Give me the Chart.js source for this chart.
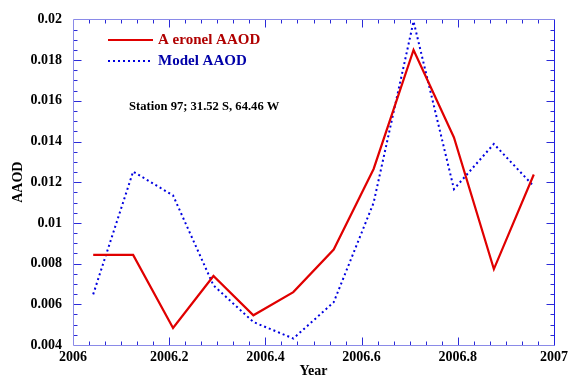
<!DOCTYPE html>
<html>
<head>
<meta charset="utf-8">
<script src="https://cdn.jsdelivr.net/npm/chart.js@4.4.1/dist/chart.umd.min.js"></script>
<style>
    html, body { margin: 0; padding: 0; background: #ffffff; }
    #aaodChart { display: block; }
</style>
</head>
<body>
<canvas id="aaodChart" width="572" height="380"></canvas>
<script>
// monthly AAOD at station 97, year 2006 (mid-month positions)
const months = [2006.042, 2006.125, 2006.208, 2006.292, 2006.375, 2006.458,
                2006.542, 2006.625, 2006.708, 2006.792, 2006.875, 2006.958];
const aeronetAAOD = [0.00843, 0.00843, 0.00484, 0.00739, 0.00546, 0.00660,
                     0.00869, 0.01265, 0.01850, 0.01420, 0.00773, 0.01238];
const modelAAOD = [0.00649, 0.01252, 0.01135, 0.00693, 0.00513, 0.00432,
                   0.00610, 0.01099, 0.01990, 0.01166, 0.01388, 0.01180];

const seriesLabels = ['A eronel AAOD', 'Model AAOD'];
const stationLabel = 'Station 97; 31.52 S, 64.46 W';

const xMin = 2006, xMax = 2007, xStep = 0.2;
const yMin = 0.004, yMax = 0.02, yStep = 0.002;

const serif = '"Liberation Serif", "Times New Roman", serif';

//frame with inward ticks on all four sides + the in-plot legend
const framePlugin = {
    id: 'frame',
    afterDraw(chart) {
        const ctx = chart.ctx;
        const area = chart.chartArea;
        const xs = chart.scales.x;
        const ys = chart.scales.y;
        const L = Math.round(area.left) + 0.5;
        const R = Math.round(area.right) + 0.5;
        const T = Math.round(area.top) + 0.5;
        const B = Math.round(area.bottom) + 0.5;

        ctx.save();
        ctx.lineWidth = 1;

        //ticks
        ctx.strokeStyle = '#2a2ad8';
        ctx.beginPath();
        const xMinor = xStep / 6;
        for (let i = 1; i < 30; i++) {
            const px = Math.round(xs.getPixelForValue(xMin + i * xMinor)) + 0.5;
            const len = (i % 6 === 0) ? 8 : 4;
            ctx.moveTo(px, B); ctx.lineTo(px, B - len);
            ctx.moveTo(px, T); ctx.lineTo(px, T + len);
        }
        const yMinor = yStep / 4;
        for (let i = 1; i < 32; i++) {
            const py = Math.round(ys.getPixelForValue(yMin + i * yMinor)) + 0.5;
            const len = (i % 4 === 0) ? 8 : 4;
            ctx.moveTo(L, py); ctx.lineTo(L + len, py);
            ctx.moveTo(R, py); ctx.lineTo(R - len, py);
        }
        ctx.stroke();

        //frame: light on left/top/bottom, strong on the right
        ctx.strokeStyle = '#8a8ae8';
        ctx.beginPath();
        ctx.moveTo(R, T); ctx.lineTo(L, T); ctx.lineTo(L, B); ctx.lineTo(R, B);
        ctx.stroke();
        ctx.strokeStyle = '#2020e0';
        ctx.beginPath();
        ctx.moveTo(R, T); ctx.lineTo(R, B);
        ctx.stroke();

        //legend
        ctx.lineWidth = 2;
        ctx.strokeStyle = '#e00000';
        ctx.setLineDash([]);
        ctx.beginPath();
        ctx.moveTo(108, 40); ctx.lineTo(153, 40);
        ctx.stroke();
        ctx.strokeStyle = '#0000e0';
        ctx.setLineDash([2, 3]);
        ctx.beginPath();
        ctx.moveTo(108, 61); ctx.lineTo(152, 61);
        ctx.stroke();
        ctx.setLineDash([]);

        ctx.font = 'bold 15px ' + serif;
        ctx.textAlign = 'left';
        ctx.textBaseline = 'middle';
        ctx.fillStyle = '#b00000';
        ctx.fillText(seriesLabels[0], 158, 40);
        ctx.fillStyle = '#0000a8';
        ctx.fillText(seriesLabels[1], 158, 61);

        ctx.font = 'bold 12.6px ' + serif;
        ctx.fillStyle = '#000000';
        ctx.fillText(stationLabel, 129, 107);
        ctx.restore();
    }
};

new Chart(document.getElementById('aaodChart'), {
    type: 'line',
    data: {
        datasets: [
            {
                label: seriesLabels[0],
                data: months.map((m, i) => ({ x: m, y: aeronetAAOD[i] })),
                borderColor: '#e00000',
                borderWidth: 2.2,
                pointRadius: 0,
                tension: 0
            },
            {
                label: seriesLabels[1],
                data: months.map((m, i) => ({ x: m, y: modelAAOD[i] })),
                borderColor: '#0000e0',
                borderWidth: 2,
                borderDash: [2, 3],
                pointRadius: 0,
                tension: 0
            }
        ]
    },
    options: {
        responsive: false,
        animation: false,
        events: [],
        layout: { padding: { left: 0, right: 18, top: 17, bottom: 0 } },
        plugins: {
            legend: { display: false },
            tooltip: { enabled: false }
        },
        scales: {
            x: {
                type: 'linear',
                min: xMin,
                max: xMax,
                grid: { display: false, drawTicks: false },
                border: { display: false },
                ticks: {
                    stepSize: xStep,
                    padding: 4,
                    color: '#000000',
                    maxRotation: 0,
                    font: { family: serif, size: 14, weight: 'bold' },
                    callback: v => String(+v.toFixed(1))
                },
                title: {
                    display: true,
                    text: 'Year',
                    color: '#000000',
                    padding: { top: 0, bottom: 0 },
                    font: { family: serif, size: 14, weight: 'bold' }
                },
                afterFit: scale => { scale.height = 35; }
            },
            y: {
                type: 'linear',
                min: yMin,
                max: yMax,
                grid: { display: false, drawTicks: false },
                border: { display: false },
                ticks: {
                    stepSize: yStep,
                    padding: 11,
                    color: '#000000',
                    font: { family: serif, size: 14, weight: 'bold' },
                    callback: v => String(+v.toFixed(3))
                },
                title: {
                    display: true,
                    text: 'AAOD',
                    color: '#000000',
                    padding: { top: 10, bottom: 0 },
                    font: { family: serif, size: 14, weight: 'bold' }
                },
                afterFit: scale => { scale.width = 73; }
            }
        }
    },
    plugins: [framePlugin]
});
</script>
</body>
</html>
